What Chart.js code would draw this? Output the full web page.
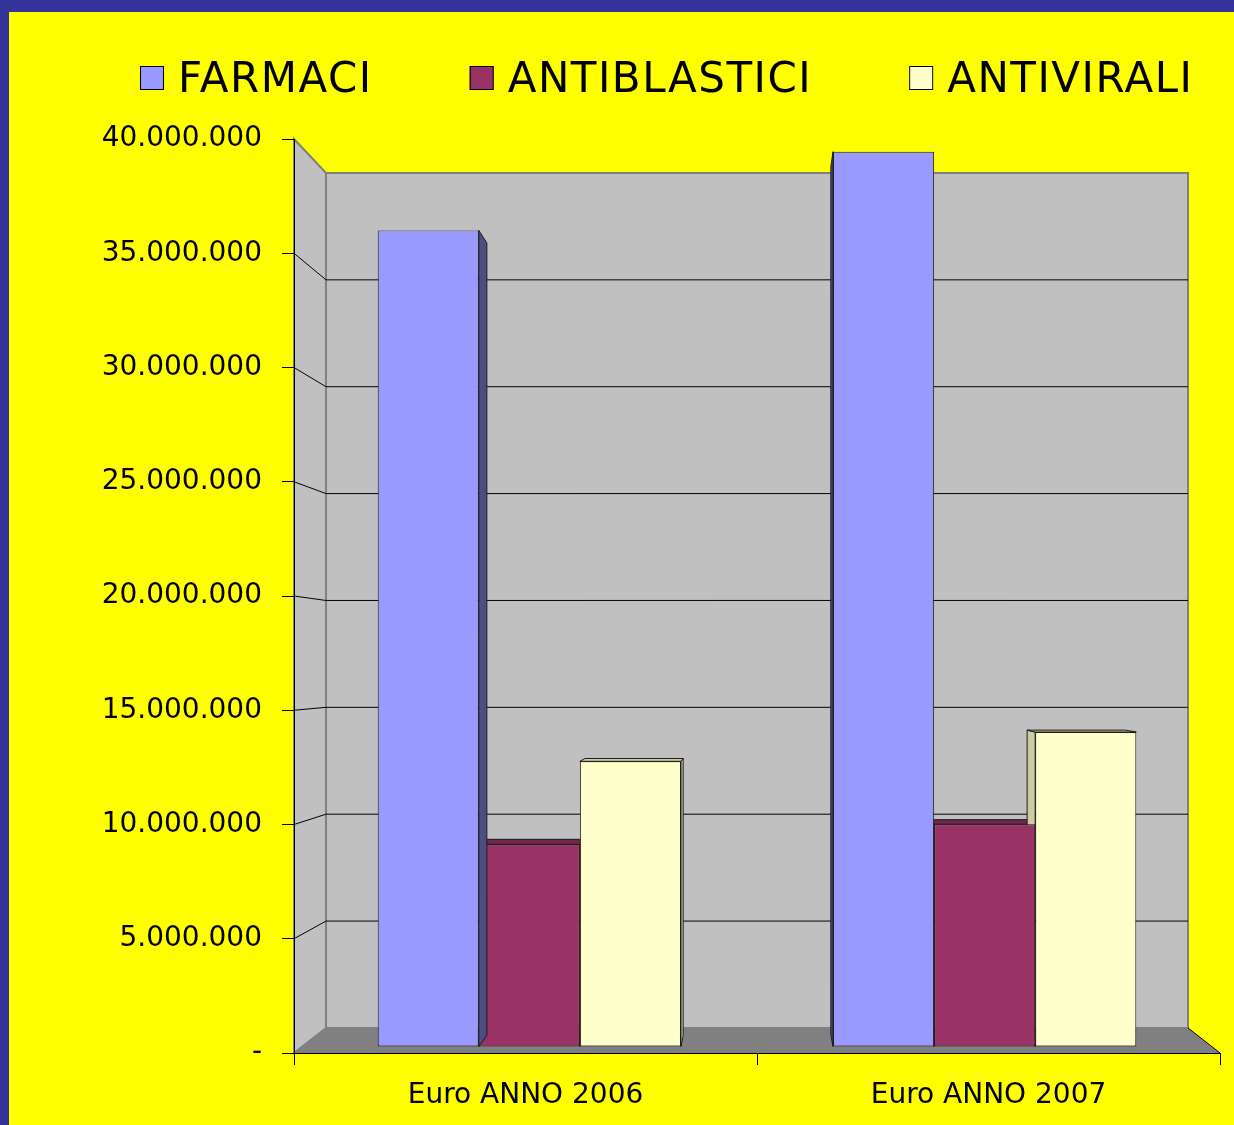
<!DOCTYPE html>
<html lang="it">
<head>
<meta charset="UTF-8">
<title>Spesa farmaci 2006-2007</title>
<script src="https://cdn.jsdelivr.net/npm/chart.js"></script>
<style>
  html, body { margin: 0; padding: 0; background: #333399; }
  #wrap { position: absolute; left: 9px; top: 12px; width: 1225px; height: 1113px; background: #ffff00; }
</style>
</head>
<body>
<div id="wrap"><canvas id="spesaChart"></canvas></div>
<script>
const categories = ['Euro ANNO 2006', 'Euro ANNO 2007'];
const farmaci = [36300000, 39800000];
const antiblastici = [9000000, 9900000];
const antivirali = [12700000, 14000000];
const seriesNames = ['FARMACI', 'ANTIBLASTICI', 'ANTIVIRALI'];

const frontColors = ['#9999ff', '#993366', '#ffffcc'];
const faceColors = ['#4d4d80', '#70264b', '#cccca3'];

// perspective: how far things shrink toward the vanishing point
const WALL_DEPTH = [0.0691, 0.0646];
const BAR_FRONT = [0.0166, 0.0155];
const BAR_DEPTH = 0.029;

function vanish(a) {
  return { x: (a.left + a.right) / 2, y: a.top + 0.5755 * (a.bottom - a.top) };
}
function toward(p, v, sx, sy) {
  return [p[0] + sx * (v.x - p[0]), p[1] + sy * (v.y - p[1])];
}
function poly(ctx, pts, fill, stroke, lw) {
  ctx.beginPath();
  ctx.moveTo(pts[0][0], pts[0][1]);
  for (let i = 1; i < pts.length; i++) ctx.lineTo(pts[i][0], pts[i][1]);
  ctx.closePath();
  if (fill) { ctx.fillStyle = fill; ctx.fill(); }
  if (stroke) { ctx.strokeStyle = stroke; ctx.lineWidth = lw || 1; ctx.stroke(); }
}
function dots(v) {
  return String(v).replace(/\B(?=(\d{3})+(?!\d))/g, '.');
}

// back wall, side wall, floor and the gridlines on them
const box3d = {
  id: 'box3d',
  beforeDraw(chart) {
    const { ctx, chartArea: a, scales: { y } } = chart;
    const v = vanish(a);
    const back = p => toward(p, v, WALL_DEPTH[0], WALL_DEPTH[1]);
    const fl = [a.left, a.bottom], fr = [a.right, a.bottom], tl = [a.left, a.top];
    const bl = back(fl), br = back(fr), btl = back(tl), btr = back([a.right, a.top]);
    ctx.save();
    poly(ctx, [fl, fr, br, bl], '#808080');
    poly(ctx, [tl, btl, bl, fl], '#c0c0c0', '#808080', 2);
    poly(ctx, [btl, btr, br, bl], '#c0c0c0', '#808080', 2);
    ctx.strokeStyle = '#000';
    ctx.lineWidth = 1;
    y.ticks.forEach(t => {
      if (t.value <= 0 || t.value >= y.max) return;
      const fy = y.getPixelForValue(t.value);
      const p = back([a.left, fy]), q = back([a.right, fy]);
      ctx.beginPath();
      ctx.moveTo(a.left, fy);
      ctx.lineTo(p[0], p[1]);
      ctx.lineTo(q[0], q[1]);
      ctx.stroke();
    });
    ctx.beginPath();
    ctx.moveTo(br[0], br[1]);
    ctx.lineTo(fr[0], fr[1]);
    ctx.stroke();
    ctx.restore();
  }
};

function drawFaces(chart, i, v) {
  const ctx = chart.ctx;
  const back = p => toward(p, v, BAR_DEPTH, BAR_DEPTH);
  chart.getDatasetMeta(i).data.forEach(bar => {
    const { x, y, base, width } = bar.getProps(['x', 'y', 'base', 'width'], true);
    const x0 = x - width / 2, x1 = x + width / 2;
    const sx = x < v.x ? x1 : x0;
    poly(ctx, [[sx, y], back([sx, y]), back([sx, base]), [sx, base]], faceColors[i], '#1a1a1a', 1);
    if (y > v.y) {
      poly(ctx, [[x0, y], [x1, y], back([x1, y]), back([x0, y])], faceColors[i], '#1a1a1a', 1);
    }
  });
}

// pushes the bars a little into the box and gives them depth
const bars3d = {
  id: 'bars3d',
  beforeDatasetsDraw(chart) {
    const { ctx, chartArea } = chart;
    const v = vanish(chartArea);
    ctx.save();
    ctx.translate(v.x, v.y);
    ctx.scale(1 - BAR_FRONT[0], 1 - BAR_FRONT[1]);
    ctx.translate(-v.x, -v.y);
    chart.data.datasets.forEach((ds, i) => { if (i > 0) drawFaces(chart, i, v); });
  },
  beforeDatasetDraw(chart, args) {
    if (args.index === 0) drawFaces(chart, 0, vanish(chart.chartArea));
  },
  afterDatasetsDraw(chart) {
    chart.ctx.restore();
  }
};

const legendRow = {
  id: 'legendRow',
  afterDraw(chart) {
    const ctx = chart.ctx;
    ctx.save();
    ctx.font = '42px "DejaVu Sans"';
    ctx.letterSpacing = '1.5px';
    ctx.textBaseline = 'middle';
    ctx.textAlign = 'left';
    let x = 131;
    const y = 66;
    chart.data.datasets.forEach(ds => {
      ctx.fillStyle = ds.backgroundColor;
      ctx.fillRect(x, y - 12, 24, 24);
      ctx.strokeStyle = '#000';
      ctx.lineWidth = 1;
      ctx.strokeRect(x + 0.5, y - 11.5, 23, 23);
      ctx.fillStyle = '#000';
      ctx.fillText(ds.label, x + 38, y + 3);
      x += 38 + ctx.measureText(ds.label).width + 97;
    });
    ctx.restore();
  }
};

const seriesData = [farmaci, antiblastici, antivirali];

new Chart(document.getElementById('spesaChart'), {
  type: 'bar',
  data: {
    labels: categories,
    datasets: seriesNames.map((name, i) => ({
      label: name,
      data: seriesData[i],
      backgroundColor: frontColors[i],
      borderColor: '#1a1a1a',
      borderWidth: 1,
      borderSkipped: false,
      categoryPercentage: 0.666,
      barPercentage: 1.0
    }))
  },
  options: {
    responsive: true,
    maintainAspectRatio: false,
    animation: false,
    layout: { padding: { top: 127, left: 0, right: 14, bottom: 0 } },
    plugins: {
      legend: { display: false },
      tooltip: { enabled: false }
    },
    scales: {
      x: {
        afterFit: s => { s.height = 72; },
        grid: { drawOnChartArea: false, color: '#000', tickLength: 12, offset: true },
        border: { display: true, color: '#000', width: 1 },
        ticks: { color: '#000', padding: 14, font: { family: 'DejaVu Sans', size: 28 } }
      },
      y: {
        min: 0,
        max: 40000000,
        afterFit: s => { s.width = 285; },
        grid: { drawOnChartArea: false, color: '#000', tickLength: 12 },
        border: { display: true, color: '#000', width: 1 },
        ticks: {
          stepSize: 5000000,
          color: '#000',
          padding: 20,
          font: { family: 'DejaVu Sans', size: 28 },
          callback: v => v === 0 ? '-' : dots(v)
        }
      }
    }
  },
  plugins: [box3d, bars3d, legendRow]
});
</script>
</body>
</html>
